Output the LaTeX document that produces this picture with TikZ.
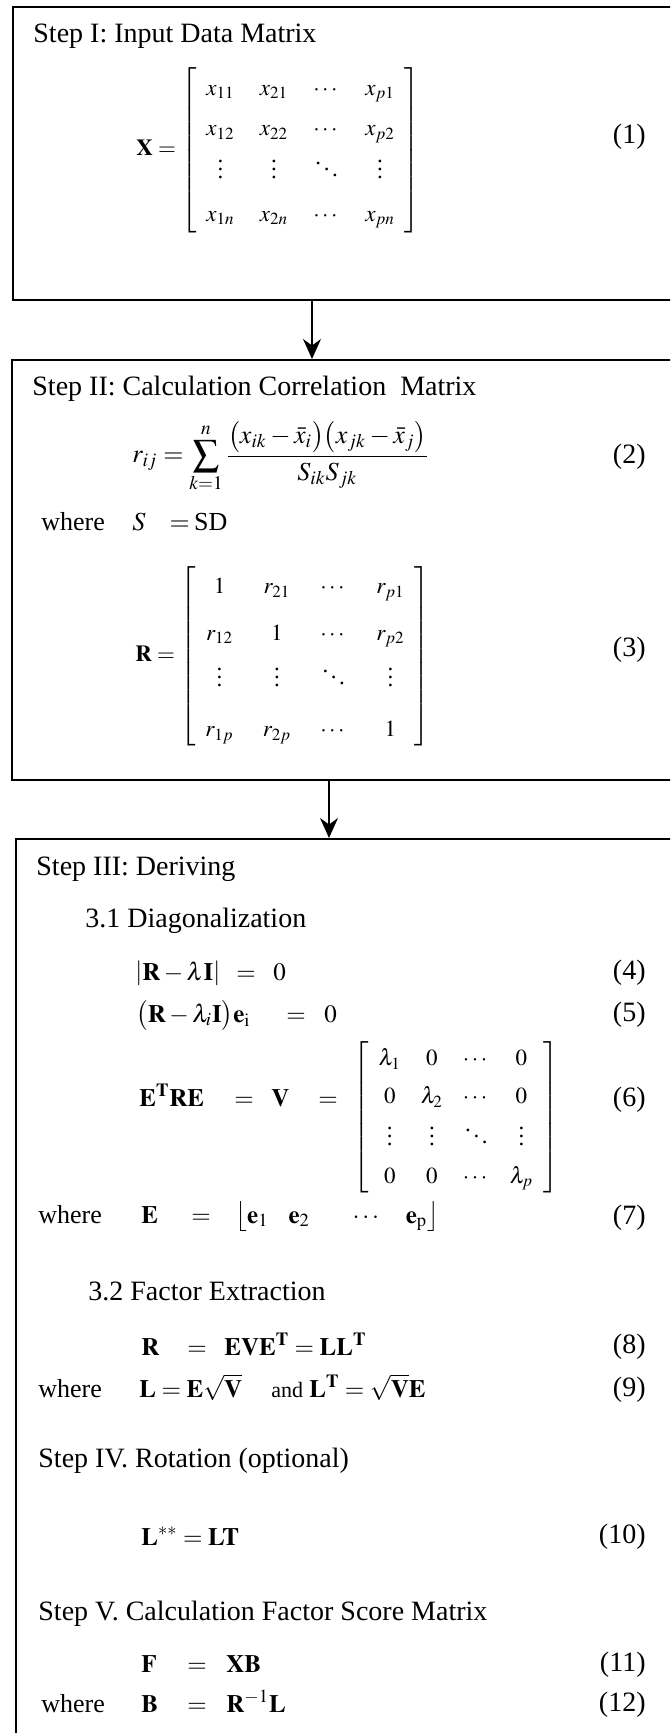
\documentclass[tikz,border=0pt]{standalone}
\usepackage{mathptmx}
\usepackage{amsmath}
\usepackage{fontspec}
\setmainfont{Liberation Serif}
\usetikzlibrary{arrows.meta}

\begin{document}
\begin{tikzpicture}[x=0.5pt, y=-0.5pt,
  box/.style={draw, line width=0.9pt, anchor=north west, inner sep=0pt},
  head/.style={anchor=base west, inner sep=0pt, font=\fontsize{14}{17}\selectfont},
  wh/.style={anchor=base west, inner sep=0pt, font=\fontsize{13}{16}\selectfont},
  eq/.style={anchor=base west, inner sep=0pt, font=\fontsize{12.5}{15}\selectfont},
  mat/.style={anchor=west, inner sep=0pt, font=\fontsize{11.5}{14}\selectfont},
  num/.style={anchor=east, inner sep=0pt, font=\fontsize{14}{17}\selectfont},
  link/.style={-{Stealth[length=10pt,width=9pt]}, line width=0.8pt}]
\useasboundingbox (0,0) rectangle (670,1733);
\clip (0,0) rectangle (670,1733);

% Boxes (cut by the page on the right)
\node[box, minimum width=344pt, minimum height=146.5pt] (box1) at (12,6) {};
\node[box, minimum width=344.5pt, minimum height=210pt] (box2) at (11,359) {};
\node[box, minimum width=342.5pt, minimum height=475pt] (box3) at (15,838) {};

% Arrows between the steps
\coordinate (a1) at (312,0);
\coordinate (a2) at (329,0);
\draw[link] (box1.south -| a1) -- (box2.north -| a1);
\draw[link] (box2.south -| a2) -- (box3.north -| a2);

% Step I
\node[head] (t1) at (33,43) {Step I: Input Data Matrix};
\node[mat] (e1) at (136,150) {\renewcommand{\arraystretch}{1.45}\setlength{\arraycolsep}{6.3pt}%
  $\mathbf{X}=\left[\begin{array}{@{\hspace{5pt}}cccc@{\hspace{5pt}}}
  x_{11} & x_{21} & \cdots & x_{p1}\\
  x_{12} & x_{22} & \cdots & x_{p2}\\
  \vdots & \vdots & \ddots & \vdots\\[1pt]
  x_{1n} & x_{2n} & \cdots & x_{pn}
  \end{array}\right]$};
\node[num] (n1) at (646,137) {(1)};

% Step II
\node[head] (t2) at (32,395) {Step II: Calculation Correlation~ Matrix};
\node[mat, font=\fontsize{13}{16}\selectfont] (e2) at (132,457) {$\displaystyle r_{ij}=\sum_{k=1}^{n}
  \frac{\bigl(x_{ik}-\bar{x}_i\bigr)\bigl(x_{jk}-\bar{x}_j\bigr)}{S_{ik}S_{jk}}$};
\node[num] (n2) at (646,457) {(2)};
\node[wh] (w2) at (41,530) {where};
\node[wh] (s2) at (132,530) {$S$\hspace{12pt}$=$\,SD};
\node[mat] (e3) at (135,656) {\renewcommand{\arraystretch}{1.65}\setlength{\arraycolsep}{7.3pt}%
  $\mathbf{R}=\left[\begin{array}{@{\hspace{5pt}}cccc@{\hspace{5pt}}}
  1 & r_{21} & \cdots & r_{p1}\\
  r_{12} & 1 & \cdots & r_{p2}\\
  \vdots & \vdots & \ddots & \vdots\\[2pt]
  r_{1p} & r_{2p} & \cdots & 1
  \end{array}\right]$};
\node[num] (n3) at (646,650) {(3)};

% Step III
\node[head] (t3) at (36,875) {Step III: Deriving};
\node[head] (t31) at (85,927) {3.1 Diagonalization};
\node[eq] (e4a) at (135,980) {$\left|\mathbf{R}-\lambda\mathbf{I}\right|$};
\node[eq] (e4b) at (236,980) {$=$};
\node[eq] (e4c) at (273,980) {$0$};
\node[num] (n4) at (646,973) {(4)};
\node[eq] (e5a) at (136,1022) {$\bigl(\mathbf{R}-\lambda_i\mathbf{I}\bigr)\mathbf{e}_{\mathrm{i}}$};
\node[eq] (e5b) at (286,1022) {$=$};
\node[eq] (e5c) at (324,1022) {$0$};
\node[num] (n5) at (646,1015) {(5)};
\node[eq] (e6a) at (139,1106) {$\mathbf{E}^{\mathbf{T}}\mathbf{RE}$};
\node[eq] (e6b) at (234,1106) {$=$};
\node[eq] (e6c) at (271,1106) {$\mathbf{V}$};
\node[eq] (e6d) at (318,1106) {$=$};
\node[mat] (e6e) at (353,1117) {\renewcommand{\arraystretch}{1.35}\setlength{\arraycolsep}{5pt}%
  $\left[\begin{array}{@{\hspace{5pt}}cccc@{\hspace{5pt}}}
  \lambda_1 & 0 & \cdots & 0\\
  0 & \lambda_2 & \cdots & 0\\
  \vdots & \vdots & \ddots & \vdots\\
  0 & 0 & \cdots & \lambda_p
  \end{array}\right]$};
\node[num] (n6) at (646,1100) {(6)};
\node[wh] (w7) at (38,1223) {where};
\node[eq] (e7a) at (141,1223) {$\mathbf{E}$};
\node[eq] (e7b) at (191,1223) {$=$};
\node[eq] (e7c) at (235,1223) {$\bigl\lfloor\mathbf{e}_1\hspace{10pt}\mathbf{e}_2\hspace{20pt}\cdots\hspace{12pt}\mathbf{e}_{\mathrm{p}}\bigr\rfloor$};
\node[num] (n7) at (646,1218) {(7)};
\node[head] (t32) at (88,1300) {3.2 Factor Extraction};
\node[eq] (e8a) at (141,1355) {$\mathbf{R}$};
\node[eq] (e8b) at (187,1355) {$=$};
\node[eq] (e8c) at (224,1355) {$\mathbf{EVE}^{\mathbf{T}}=\mathbf{LL}^{\mathbf{T}}$};
\node[num] (n8) at (646,1347) {(8)};
\node[wh] (w9) at (38,1397) {where};
\node[eq] (e9a) at (139,1397) {$\mathbf{L}=\mathbf{E}\sqrt{\mathbf{V}}$};
\node[eq] (e9b) at (271,1397) {{\fontsize{11}{13}\selectfont and} $\mathbf{L}^{\mathbf{T}}=\sqrt{\mathbf{V}}\mathbf{E}$};
\node[num] (n9) at (646,1390) {(9)};

% Step IV
\node[head] (t4) at (38,1467) {Step IV. Rotation (optional)};
\node[eq] (e10) at (141,1545) {$\mathbf{L}^{**}=\mathbf{LT}$};
\node[num] (n10) at (646,1537) {(10)};

% Step V
\node[head] (t5) at (38,1620) {Step V. Calculation Factor Score Matrix};
\node[eq] (e11a) at (141,1672) {$\mathbf{F}$};
\node[eq] (e11b) at (187,1672) {$=$};
\node[eq] (e11c) at (226,1672) {$\mathbf{XB}$};
\node[num] (n11) at (646,1665) {(11)};
\node[wh] (w12) at (41,1712) {where};
\node[eq] (e12a) at (141,1712) {$\mathbf{B}$};
\node[eq] (e12b) at (187,1712) {$=$};
\node[eq] (e12c) at (226,1712) {$\mathbf{R}^{-1}\mathbf{L}$};
\node[num] (n12) at (646,1705) {(12)};
\end{tikzpicture}
\end{document}
